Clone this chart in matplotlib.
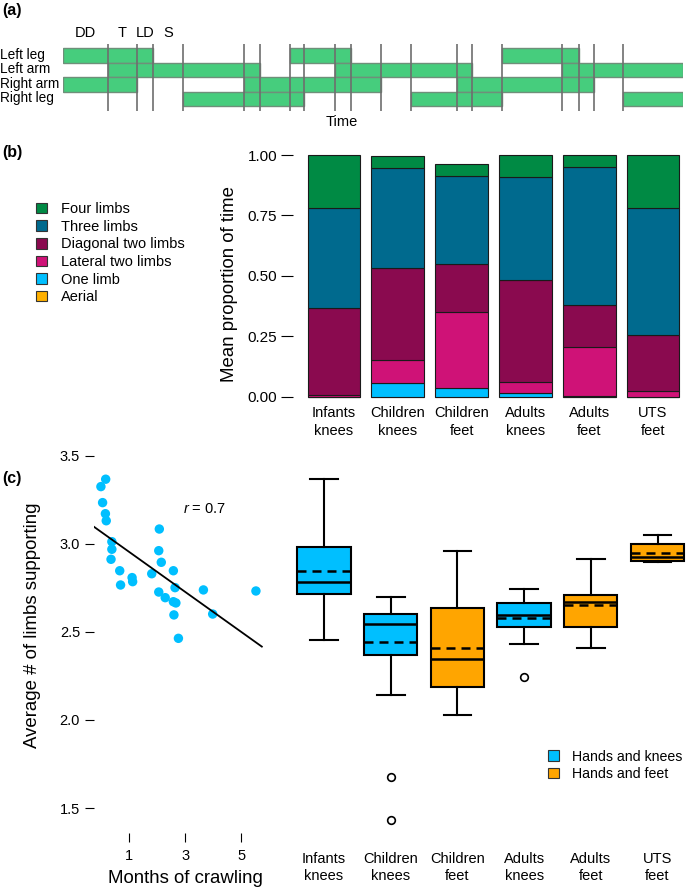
import matplotlib
matplotlib.use("Agg")
import matplotlib.pyplot as plt
import matplotlib.transforms as mtransforms
from matplotlib.patches import Patch
import numpy as np

plt.rcParams['font.family'] = ['Liberation Sans', 'DejaVu Sans']
plt.rcParams['mathtext.fontset'] = 'custom'
plt.rcParams['mathtext.it'] = 'Liberation Sans:italic'
plt.rcParams['mathtext.rm'] = 'Liberation Sans'

# ---------------- Panel (a): gait diagram data ----------------
limbs = ["Left leg", "Left arm", "Right arm", "Right leg"]
left_leg_on = [(0, 90.6), (227, 288), (439.3, 516.3)]
left_arm_on = [(45, 197), (272.6, 409), (499.3, 620.6)]
right_arm_on = [(0, 74.6), (181.3, 318.6), (394, 531)]
right_leg_on = [(120.3, 241.6), (348.3, 439.3), (560.6, 620.6)]
event_times = [45, 74.6, 90.6, 120.3, 181.3, 197, 227, 241.6, 272.6, 288,
               318.6, 348.3, 394, 409, 439.3, 499.3, 516.3, 531, 560.6]
phase_labels = ["DD", "T", "LD", "S"]
phase_times = [22.5, 59.8, 82.6, 105.5]
time_end = 620.6

# ---------------- Panel (b): stacked proportions ----------------
groups = ["Infants\nknees", "Children\nknees", "Children\nfeet",
          "Adults\nknees", "Adults\nfeet", "UTS\nfeet"]
aerial = [0.0, 0.0, 0.0, 0.0, 0.0, 0.0]
one_limb = [0.0, 0.055, 0.034, 0.014, 0.004, 0.0]
lateral_two = [0.006, 0.097, 0.316, 0.047, 0.202, 0.025]
diagonal_two = [0.360, 0.382, 0.197, 0.422, 0.174, 0.229]
three_limbs = [0.416, 0.411, 0.366, 0.425, 0.572, 0.525]
four_limbs = [0.218, 0.052, 0.050, 0.092, 0.048, 0.221]

# ---------------- Panel (c): scatter ----------------
months = [0.17, 0.0, 0.06, 0.16, 0.19, 2.08, 0.39, 0.39, 0.36, 2.06, 2.15, 0.67,
          2.58, 1.81, 1.11, 1.13, 0.70, 2.64, 3.65, 5.52, 2.06, 2.29, 2.58, 2.67,
          2.60, 3.98, 2.76]
limbs_support = [3.368, 3.326, 3.235, 3.172, 3.132, 3.085, 3.013, 2.970, 2.913,
                 2.962, 2.896, 2.848, 2.848, 2.831, 2.809, 2.786, 2.767, 2.752,
                 2.739, 2.733, 2.727, 2.695, 2.672, 2.665, 2.597, 2.602, 2.464]
fit_x = [-0.25, 5.73]
fit_y = [3.098, 2.417]

# ---------------- Panel (c): box summaries ----------------
box_groups = groups
box_whislo = [2.456, 2.142, 2.029, 2.434, 2.410, 2.895]
box_q1 = [2.714, 2.368, 2.190, 2.527, 2.527, 2.904]
box_med = [2.783, 2.544, 2.347, 2.594, 2.671, 2.927]
box_mean = [2.845, 2.443, 2.410, 2.579, 2.654, 2.950]
box_q3 = [2.985, 2.602, 2.638, 2.664, 2.713, 2.998]
box_whishi = [3.372, 2.701, 2.960, 2.742, 2.914, 3.053]
box_fliers = [[], [1.678, 1.432], [], [2.247], [], []]
box_posture = ["knees", "knees", "feet", "knees", "feet", "feet"]

W, H = 690, 888
fig = plt.figure(figsize=(W / 100, H / 100), dpi=100)


def ax_px(left, top, right, bottom, **kw):
    return fig.add_axes([left / W, 1 - bottom / H, (right - left) / W, (bottom - top) / H], **kw)


FS = 10.5
LAB = 13.4

# ================= Panel (a) =================
axa = ax_px(62.7, 44, 683.3, 110.7)
ylo, yhi = -0.276, 4.324
axa.set_xlim(0, time_end)
axa.set_ylim(yhi, ylo)
green = "#46CD7D"
for row, segs in enumerate([left_leg_on, left_arm_on, right_arm_on, right_leg_on]):
    for s, e in segs:
        axa.barh(row + 0.5, e - s, left=s, height=1.0, color=green,
                 edgecolor="#6f8f7a", linewidth=1.0, zorder=2)
axa.vlines(event_times, ylo, yhi, colors="#6e6e6e", linewidth=1.2, zorder=3)
for lab, t in zip(phase_labels, phase_times):
    axa.text(t, -1.03, lab, ha="center", va="center", fontsize=FS, clip_on=False)
axa.text(279.3, 5.1, "Time", ha="center", va="center", fontsize=FS, clip_on=False)
blend = mtransforms.blended_transform_factory(fig.transFigure, axa.transData)
for row, name in enumerate(limbs):
    axa.text(0.0, row + 0.45, name, transform=blend, ha="left", va="center", fontsize=9.8)
axa.axis("off")

# ================= Panel (b) =================
axb = ax_px(293, 150, 690, 400)
x = np.arange(len(groups))
series = [("Aerial", aerial, "#FFB000"),
          ("One limb", one_limb, "#00BFFF"),
          ("Lateral two limbs", lateral_two, "#CF1277"),
          ("Diagonal two limbs", diagonal_two, "#8A0A4F"),
          ("Three limbs", three_limbs, "#006A8E"),
          ("Four limbs", four_limbs, "#008A44")]
bottom = np.zeros(len(groups))
for name, vals, col in series:
    v = np.array(vals)
    axb.bar(x, v, bottom=bottom, width=0.83, color=col, edgecolor="#1a1a1a",
            linewidth=0.8)
    bottom += v
axb.set_xlim((293 - 334) / 63.8, (690 - 334) / 63.8)
axb.set_ylim(-(400 - 396.7) / 241.7, 1 + (155 - 150) / 241.7)
axb.set_yticks([0, 0.25, 0.5, 0.75, 1.0])
axb.set_yticklabels(["0.00", "0.25", "0.50", "0.75", "1.00"])
axb.set_xticks(x)
axb.set_xticklabels(groups, fontsize=FS, linespacing=1.32)
axb.tick_params(axis="x", length=0, pad=4.5)
axb.tick_params(axis="y", length=9, width=0.8, pad=2.5, labelsize=11)
for sp in axb.spines.values():
    sp.set_visible(False)
axb.set_ylabel("Mean proportion of time", fontsize=LAB, va="center")
axb.yaxis.set_label_coords((229 - 293) / 397, (400 - 284) / 250)

handles = [Patch(facecolor=c, edgecolor="#333333", linewidth=0.8) for _, _, c in series[::-1]]
labels = [n for n, _, _ in series[::-1]]
fig.legend(handles, labels, loc="upper left", bbox_to_anchor=(36 / W, 1 - 202 / H),
           frameon=False, fontsize=FS, handlelength=0.75, handleheight=0.75,
           handletextpad=0.95, labelspacing=0.25, borderpad=0, borderaxespad=0)

# ================= Panel (c) scatter =================
ax_s = ax_px(94, 447, 265, 833)
ax_s.scatter(months, limbs_support, s=46, color="#00BFFF", edgecolors="none", zorder=2)
ax_s.plot(fit_x, fit_y, color="black", linewidth=1.3, zorder=3)
ax_s.text(2.92, 3.199, "$r$ = 0.7", ha="left", va="center", fontsize=FS)
ax_s.set_xlim(-0.246, 5.843)
ax_s.set_ylim(1.358, 3.551)
ax_s.set_xticks([1, 3, 5])
ax_s.set_yticks([1.5, 2.0, 2.5, 3.0, 3.5])
ax_s.set_yticklabels(["1.5", "2.0", "2.5", "3.0", "3.5"])
ax_s.tick_params(axis="x", length=6.5, width=0.8, pad=5, labelsize=FS)
ax_s.tick_params(axis="y", length=6.5, width=0.8, pad=3.5, labelsize=FS)
for sp in ax_s.spines.values():
    sp.set_visible(False)
ax_s.set_xlabel("Months of crawling", fontsize=LAB, va="center")
ax_s.xaxis.set_label_coords((185 - 94) / 171, (833 - 878.5) / 386)
ax_s.set_ylabel("Average # of limbs supporting", fontsize=LAB, va="center")
ax_s.yaxis.set_label_coords((33 - 94) / 171, (833 - 625) / 386)

# ================= Panel (c) boxes =================
ax_b = ax_px(290.65, 447, 690.85, 833)
stats = []
for i in range(len(box_groups)):
    stats.append(dict(med=box_med[i], q1=box_q1[i], q3=box_q3[i],
                      whislo=box_whislo[i], whishi=box_whishi[i],
                      mean=box_mean[i], fliers=box_fliers[i]))
pos = np.arange(1, len(box_groups) + 1)
bp = ax_b.bxp(stats, positions=pos, widths=0.8, capwidths=0.415,
              showmeans=True, meanline=True, patch_artist=True,
              boxprops=dict(linewidth=1.5, edgecolor="black"),
              whiskerprops=dict(linewidth=1.5, color="black"),
              capprops=dict(linewidth=1.5, color="black"),
              medianprops=dict(linewidth=1.8, color="black"),
              meanprops=dict(linewidth=1.8, color="black", linestyle=(0, (3.6, 2.4))),
              flierprops=dict(marker="o", markersize=5.5, markerfacecolor="none",
                              markeredgecolor="black", markeredgewidth=1.2))
colmap = {"knees": "#00BFFF", "feet": "#FFA500"}
for patch, p in zip(bp["boxes"], box_posture):
    patch.set_facecolor(colmap[p])
ax_b.set_xlim(0.5, 6.5)
ax_b.set_ylim(1.358, 3.551)
ax_b.set_xticks(pos)
ax_b.set_xticklabels(box_groups, fontsize=FS, linespacing=1.32)
ax_b.tick_params(axis="x", length=0, pad=13.5)
ax_b.set_yticks([])
for sp in ax_b.spines.values():
    sp.set_visible(False)
lh = [Patch(facecolor="#00BFFF", edgecolor="#333333", linewidth=0.8),
      Patch(facecolor="#FFA500", edgecolor="#333333", linewidth=0.8)]
fig.legend(lh, ["Hands and knees", "Hands and feet"], loc="upper left",
           bbox_to_anchor=(548 / W, 1 - 749.5 / H), frameon=False, fontsize=10.2,
           handlelength=0.75, handleheight=0.75, handletextpad=0.95,
           labelspacing=0.24, borderpad=0, borderaxespad=0)

# panel letters
fig.text(2 / W, 1 - 10 / H, "(a)", fontsize=11.5, fontweight="bold", va="center", ha="left")
fig.text(2 / W, 1 - 152 / H, "(b)", fontsize=11.5, fontweight="bold", va="center", ha="left")
fig.text(2 / W, 1 - 478 / H, "(c)", fontsize=11.5, fontweight="bold", va="center", ha="left")

fig.savefig("out.png", dpi=100)
